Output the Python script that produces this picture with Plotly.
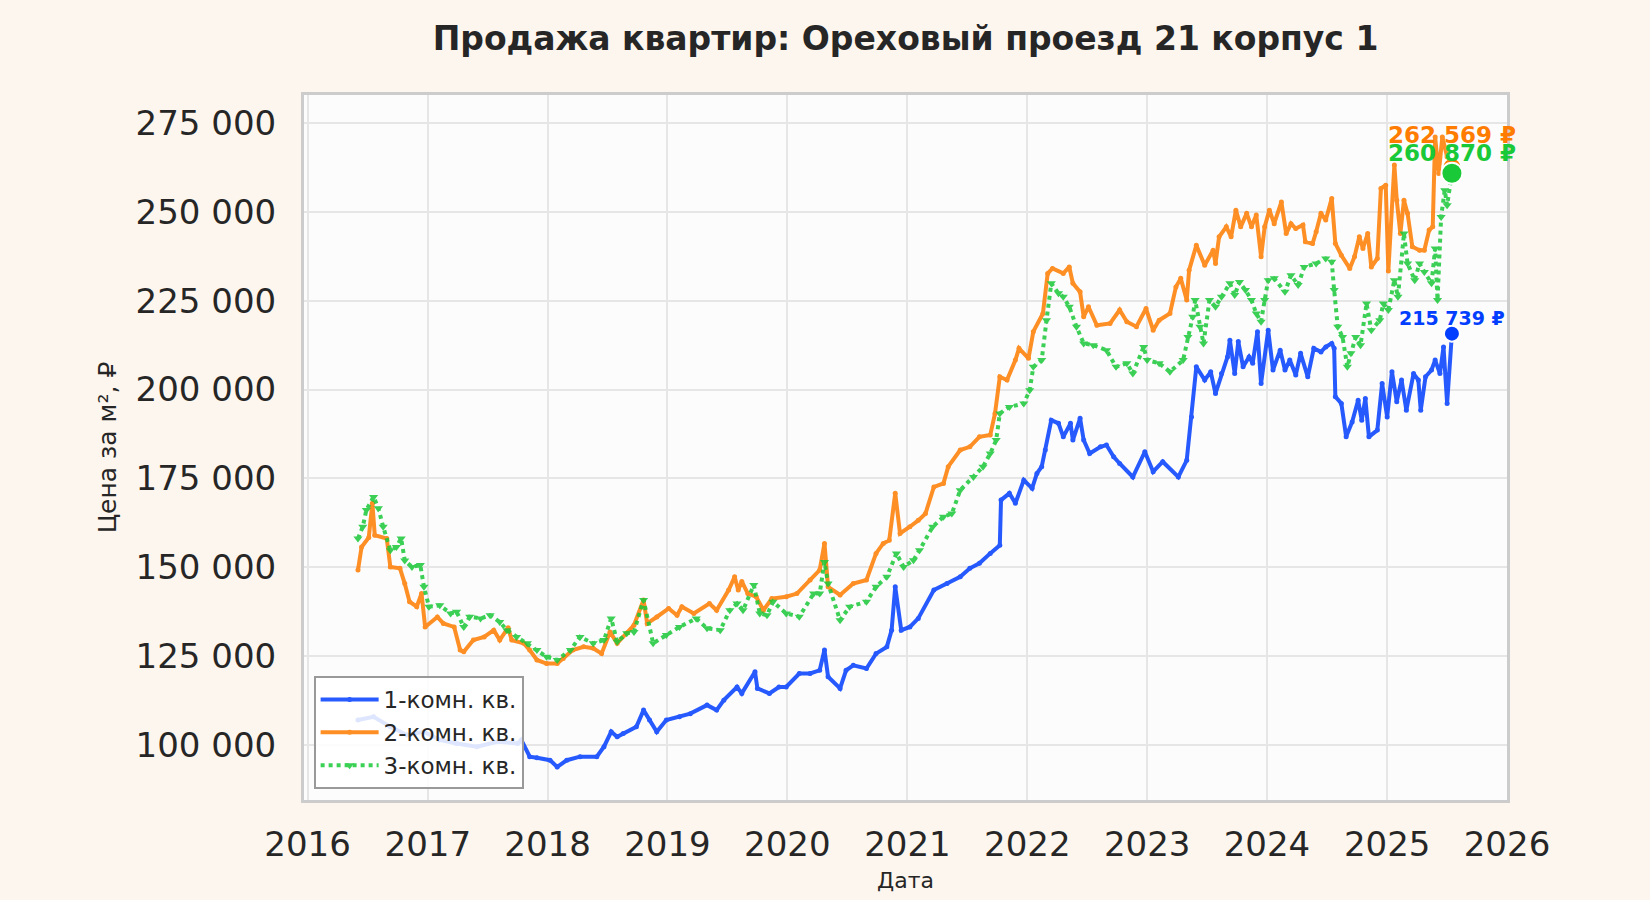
import pandas as pd
import plotly.graph_objects as go

TITLE = "Продажа квартир: Ореховый проезд 21 корпус 1"
NAMES = ["1-комн. кв.", "2-комн. кв.", "3-комн. кв."]
COLORS = ["#023eff", "#ff7c00", "#1ac938"]

# dates as decimal years; prices in ₽ per m²
T_1K = [2016.42, 2016.55, 2016.69, 2016.83, 2016.97, 2017.10, 2017.24, 2017.41, 2017.58, 2017.75,
        2017.78, 2017.85, 2017.91, 2018.02, 2018.08, 2018.16, 2018.27, 2018.41, 2018.47, 2018.53,
        2018.58, 2018.63, 2018.74, 2018.80, 2018.85, 2018.91, 2018.99, 2019.10, 2019.19, 2019.33,
        2019.41, 2019.47, 2019.58, 2019.62, 2019.73, 2019.75, 2019.85, 2019.93, 2019.99, 2020.10,
        2020.19, 2020.27, 2020.31, 2020.34, 2020.44, 2020.49, 2020.55, 2020.66, 2020.74, 2020.83,
        2020.87, 2020.90, 2020.95, 2021.02, 2021.09, 2021.22, 2021.33, 2021.44, 2021.52, 2021.60,
        2021.69, 2021.77, 2021.78, 2021.85, 2021.90, 2021.97, 2022.04, 2022.08, 2022.12, 2022.15,
        2022.20, 2022.26, 2022.30, 2022.36, 2022.38, 2022.44, 2022.47, 2022.52, 2022.61, 2022.66,
        2022.72, 2022.77, 2022.88, 2022.98, 2023.05, 2023.13, 2023.26, 2023.33, 2023.37, 2023.41,
        2023.48, 2023.53, 2023.57, 2023.62, 2023.67, 2023.69, 2023.73, 2023.76, 2023.80, 2023.85,
        2023.88, 2023.92, 2023.95, 2024.01, 2024.05, 2024.11, 2024.15, 2024.19, 2024.24, 2024.28,
        2024.34, 2024.39, 2024.45, 2024.49, 2024.54, 2024.56, 2024.57, 2024.62, 2024.66, 2024.71,
        2024.76, 2024.79, 2024.82, 2024.85, 2024.92, 2024.96, 2025.00, 2025.04, 2025.08, 2025.12,
        2025.16, 2025.22, 2025.26, 2025.28, 2025.32, 2025.37, 2025.40, 2025.44, 2025.47, 2025.50,
        2025.54]
P_1K = [107000, 107900, 105100, 102800, 103700, 101400, 100400, 99500, 100900, 100400,
        101400, 96700, 96400, 95700, 93800, 95700, 96700, 96700, 99500, 103700,
        102300, 103200, 105100, 109800, 107000, 103700, 107000, 107900, 108800, 111200,
        109800, 112600, 116300, 114500, 120600, 115900, 114500, 116300, 116300, 120100,
        120100, 121000, 126700, 119200, 115900, 121000, 122400, 121500, 125700, 127600,
        132300, 144500, 132300, 133200, 135600, 143600, 145400, 147300, 149700, 151100,
        153900, 156200, 168900, 170800, 168000, 174500, 172200, 176400, 178300, 183000,
        191400, 190500, 186700, 190500, 185800, 191900, 185800, 182000, 183900, 184400,
        181100, 179200, 175400, 182500, 176900, 179700, 175400, 180100, 192300, 206400,
        202700, 205000, 198900, 204500, 209200, 213900, 204500, 213500, 206400, 209200,
        207400, 216300, 201700, 216700, 205500, 211100, 205500, 208300, 204100, 210200,
        203600, 211600, 210600, 212000, 213000, 211600, 198000, 196100, 186700, 190900,
        197000, 191400, 197500, 186700, 188600, 201700, 192300, 205000, 196600, 202700,
        194200, 204500, 202700, 194200, 203600, 205500, 208300, 204500, 212000, 196100,
        215739]

T_2K = [2016.42, 2016.45, 2016.51, 2016.54, 2016.56, 2016.66, 2016.69, 2016.77, 2016.81, 2016.85,
        2016.91, 2016.95, 2016.98, 2017.08, 2017.13, 2017.22, 2017.27, 2017.30, 2017.38, 2017.47,
        2017.55, 2017.60, 2017.67, 2017.70, 2017.80, 2017.85, 2017.91, 2017.99, 2018.08, 2018.13,
        2018.21, 2018.30, 2018.38, 2018.45, 2018.52, 2018.58, 2018.66, 2018.72, 2018.80, 2018.83,
        2018.91, 2019.01, 2019.08, 2019.12, 2019.22, 2019.35, 2019.41, 2019.51, 2019.56, 2019.59,
        2019.62, 2019.67, 2019.74, 2019.80, 2019.87, 2019.99, 2020.08, 2020.19, 2020.27, 2020.31,
        2020.34, 2020.44, 2020.55, 2020.66, 2020.74, 2020.80, 2020.85, 2020.90, 2020.94, 2021.02,
        2021.09, 2021.15, 2021.22, 2021.30, 2021.34, 2021.44, 2021.52, 2021.60, 2021.69, 2021.73,
        2021.77, 2021.83, 2021.90, 2021.93, 2022.01, 2022.05, 2022.13, 2022.17, 2022.21, 2022.30,
        2022.35, 2022.38, 2022.44, 2022.47, 2022.51, 2022.58, 2022.69, 2022.77, 2022.83, 2022.91,
        2022.99, 2023.05, 2023.10, 2023.19, 2023.24, 2023.28, 2023.33, 2023.35, 2023.41, 2023.48,
        2023.55, 2023.57, 2023.60, 2023.66, 2023.70, 2023.74, 2023.78, 2023.83, 2023.87, 2023.91,
        2023.95, 2023.98, 2024.02, 2024.06, 2024.12, 2024.16, 2024.20, 2024.24, 2024.30, 2024.32,
        2024.38, 2024.41, 2024.45, 2024.49, 2024.54, 2024.57, 2024.62, 2024.69, 2024.73, 2024.77,
        2024.80, 2024.84, 2024.87, 2024.92, 2024.95, 2024.99, 2025.01, 2025.06, 2025.08, 2025.11,
        2025.14, 2025.17, 2025.21, 2025.27, 2025.31, 2025.35, 2025.38, 2025.40, 2025.43, 2025.46,
        2025.50, 2025.54]
P_2K = [149200, 155700, 158400, 168000, 159000, 158100, 150100, 149700, 145400, 140300,
        138900, 142600, 133200, 136000, 134200, 133200, 126700, 126200, 129500, 130400,
        132300, 129500, 133000, 129500, 128600, 126700, 123900, 122900, 122900, 124300,
        126700, 127600, 127200, 125700, 131800, 128600, 131500, 133700, 140800, 134200,
        136000, 138400, 136500, 138900, 137000, 139800, 137900, 143600, 147300, 143600,
        146000, 142600, 141700, 137900, 141200, 141700, 142600, 146400, 149200, 156700,
        144500, 142200, 145400, 146400, 153900, 156700, 157600, 170800, 159500, 161400,
        163200, 165100, 172600, 173600, 178300, 183000, 183900, 186700, 187200, 193300,
        203600, 202700, 208300, 211600, 208800, 216300, 221400, 232700, 234100, 232700,
        234500, 229900, 227500, 220500, 223300, 218100, 218600, 222400, 219100, 217700,
        222800, 216700, 219500, 221400, 228900, 231300, 225200, 233600, 240600, 235000,
        239200, 235500, 243000, 245800, 243000, 250500, 245800, 249600, 245800, 249100,
        237400, 245800, 250500, 246700, 252800, 243900, 246700, 245300, 246300, 241600,
        241100, 244400, 249600, 247700, 253800, 241100, 237800, 234100, 237400, 243000,
        239700, 243900, 234500, 236900, 256600, 257500, 233400, 263200, 253300, 243900,
        253300, 249600, 240200, 239200, 239200, 244900, 245800, 271100, 260800, 271100,
        265500, 262569]

T_3K = [2016.42, 2016.46, 2016.49, 2016.55, 2016.59, 2016.63, 2016.69, 2016.74, 2016.78, 2016.81,
        2016.87, 2016.94, 2016.97, 2017.01, 2017.10, 2017.19, 2017.24, 2017.30, 2017.35, 2017.44,
        2017.52, 2017.60, 2017.66, 2017.74, 2017.83, 2017.91, 2017.99, 2018.08, 2018.19, 2018.27,
        2018.38, 2018.47, 2018.53, 2018.58, 2018.66, 2018.72, 2018.80, 2018.88, 2018.99, 2019.10,
        2019.24, 2019.33, 2019.44, 2019.52, 2019.58, 2019.63, 2019.72, 2019.77, 2019.83, 2019.88,
        2019.99, 2020.10, 2020.22, 2020.27, 2020.31, 2020.34, 2020.44, 2020.52, 2020.66, 2020.74,
        2020.83, 2020.91, 2020.97, 2021.05, 2021.10, 2021.21, 2021.30, 2021.37, 2021.44, 2021.55,
        2021.63, 2021.69, 2021.74, 2021.77, 2021.85, 2021.97, 2022.02, 2022.05, 2022.12, 2022.16,
        2022.20, 2022.26, 2022.30, 2022.35, 2022.41, 2022.47, 2022.55, 2022.66, 2022.74, 2022.83,
        2022.88, 2022.97, 2023.00, 2023.10, 2023.19, 2023.30, 2023.34, 2023.38, 2023.40, 2023.44,
        2023.47, 2023.52, 2023.57, 2023.62, 2023.69, 2023.73, 2023.77, 2023.82, 2023.87, 2023.91,
        2023.95, 2023.98, 2024.01, 2024.06, 2024.15, 2024.20, 2024.26, 2024.31, 2024.41, 2024.49,
        2024.54, 2024.56, 2024.59, 2024.63, 2024.67, 2024.70, 2024.74, 2024.78, 2024.83, 2024.87,
        2024.94, 2024.97, 2025.01, 2025.06, 2025.09, 2025.14, 2025.17, 2025.23, 2025.27, 2025.31,
        2025.37, 2025.40, 2025.42, 2025.45, 2025.48, 2025.50, 2025.54]
P_3K = [158100, 161400, 166100, 169800, 166600, 161400, 154800, 155700, 158100, 151900,
        150100, 150600, 144500, 138900, 139300, 137000, 137500, 133200, 136100, 135600,
        136500, 134600, 132300, 130400, 128600, 126700, 124800, 123900, 126700, 130400,
        128600, 129500, 135600, 129000, 131400, 131800, 140800, 128600, 130900, 133200,
        135600, 132800, 132300, 137900, 139800, 137900, 145000, 137000, 136500, 140300,
        137000, 136100, 142600, 142600, 151500, 145400, 135100, 138900, 140300, 144500,
        147300, 153900, 150100, 152000, 154800, 161400, 164200, 165100, 171700, 175400,
        178300, 182000, 185800, 193300, 195100, 196100, 199800, 206400, 208300, 219500,
        229900, 227100, 226100, 223300, 217700, 213000, 212500, 211100, 206400, 207400,
        204500, 212000, 208300, 207400, 205000, 208300, 214800, 220500, 225200, 217700,
        213000, 225200, 223300, 226100, 229900, 226600, 230300, 228000, 225200, 221400,
        219100, 225200, 230800, 231300, 227500, 232200, 229400, 234500, 235500, 236900,
        236000, 228000, 217700, 214800, 206400, 210200, 214800, 212500, 224200, 216700,
        219500, 224200, 222400, 230800, 226100, 243900, 235500, 230800, 235500, 233100,
        229900, 239700, 225200, 248600, 256100, 251900, 260870]

Y_TICKS = [100000, 125000, 150000, 175000, 200000, 225000, 250000, 275000]
X_TICKS = [str(y) for y in range(2016, 2027)]


def to_dates(years):
    return [pd.Timestamp(int(y), 1, 1) + pd.Timedelta(days=(y - int(y)) * 365.25) for y in years]


def rub(v):
    return f"{v:,}".replace(",", " ") + " ₽"


series = [(T_1K, P_1K), (T_2K, P_2K), (T_3K, P_3K)]
fig = go.Figure()

for (t, p), name, color in zip(series, NAMES, COLORS):
    dotted = name.startswith("3")
    fig.add_trace(go.Scatter(
        x=to_dates(t), y=p, name=name, mode="lines+markers",
        line=dict(color=color, width=4, dash="dot" if dotted else "solid"),
        marker=dict(color=color, size=8 if dotted else 5,
                    symbol="triangle-down" if dotted else "circle"),
        opacity=0.85,
    ))

# last value markers + labels
label_shift = [16, 32, 20]
label_size = [19, 23, 23]
marker_size = [16, 19, 21]
for i, ((t, p), color) in enumerate(zip(series, COLORS)):
    last_x = to_dates(t)[-1]
    fig.add_trace(go.Scatter(
        x=[last_x], y=[p[-1]], mode="markers", showlegend=False,
        marker=dict(color=color, size=marker_size[i], line=dict(color="white", width=2)),
    ))
    fig.add_annotation(
        x=last_x, y=p[-1], text=f"<b>{rub(p[-1])}</b>", showarrow=False,
        yshift=label_shift[i], font=dict(color=color, size=label_size[i]),
    )

fig.update_layout(
    width=1650, height=900,
    paper_bgcolor="#fdf6ee", plot_bgcolor="#fcfcfd",
    font=dict(family="DejaVu Sans", color="#262626"),
    separators=". ",
    title=dict(text=f"<b>{TITLE}</b>", x=0.5488, xanchor="center", y=0.957, yanchor="middle",
               font=dict(size=33, color="#262626")),
    margin=dict(l=304, r=143, t=95, b=100),
    legend=dict(x=0.008, y=0.0156, xanchor="left", yanchor="bottom",
                bgcolor="rgba(255,255,255,0.85)", bordercolor="#999999", borderwidth=2,
                font=dict(size=23, color="#262626"), itemwidth=58),
    xaxis=dict(
        type="date", range=["2015-12-21", "2026-01-01"],
        tickvals=[pd.Timestamp(y) for y in X_TICKS], ticktext=X_TICKS,
        showgrid=True, gridcolor="#e6e6e6", gridwidth=2,
        showline=True, mirror=True, linecolor="#cccccc", linewidth=3,
        tickfont=dict(size=34), ticklabelstandoff=12,
        title=dict(text="Дата", font=dict(size=22), standoff=10),
        zeroline=False,
    ),
    yaxis=dict(
        range=[84500, 282900], tickvals=Y_TICKS, tickformat=",d",
        showgrid=True, gridcolor="#e6e6e6", gridwidth=2,
        showline=True, mirror=True, linecolor="#cccccc", linewidth=3,
        tickfont=dict(size=34), ticklabelstandoff=18,
        title=dict(text="Цена за м², ₽", font=dict(size=25), standoff=12),
        zeroline=False,
    ),
)

fig.write_html(
    "out.html",
    config={"displayModeBar": False},
    post_script="document.body.style.margin='0';document.body.style.background='#fdf6ee';",
)
